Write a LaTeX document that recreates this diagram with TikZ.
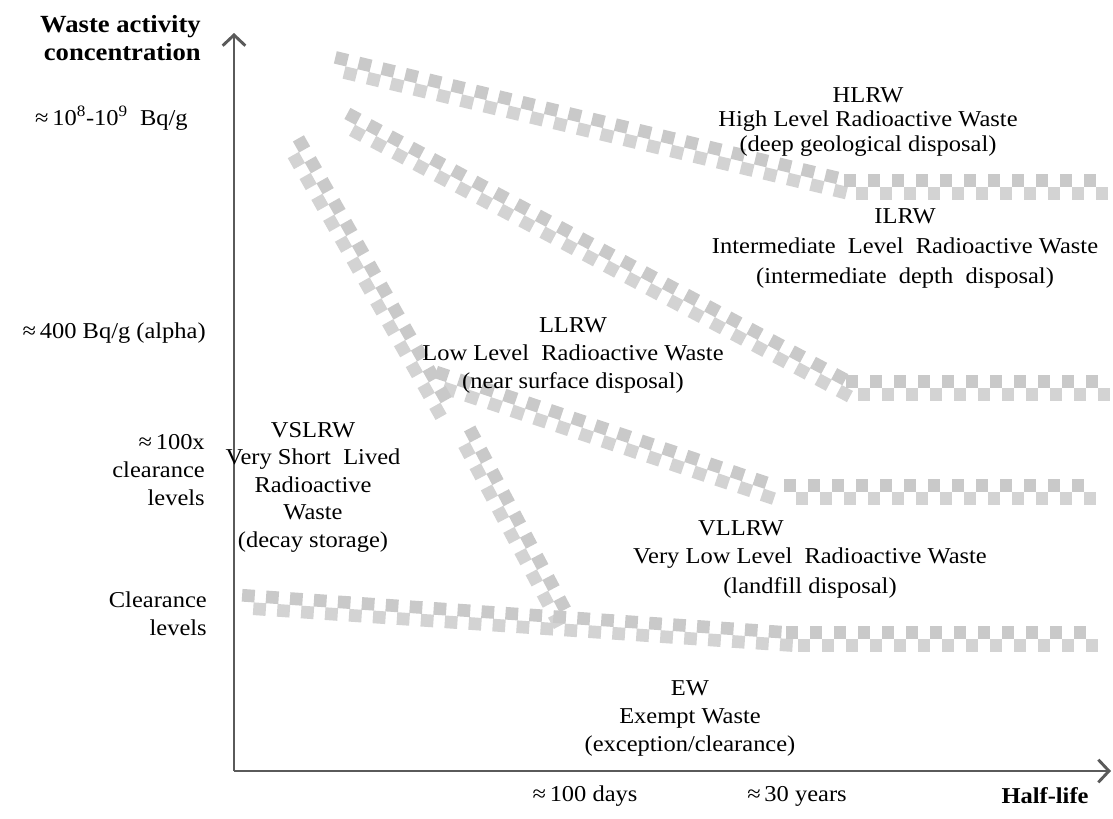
\documentclass[tikz,border=0pt]{standalone}
\usepackage{fontspec}
\setmainfont{Liberation Serif}[FakeStretch=1.08]
\usetikzlibrary{arrows.meta,decorations.markings}
\definecolor{axisgray}{HTML}{5A5A5A}
\definecolor{chk}{HTML}{C9C9C9}
\definecolor{chklt}{HTML}{D3D3D3}
\begin{document}
\begin{tikzpicture}[x=0.75pt,y=-0.75pt,font=\fontsize{17}{21}\selectfont,
  lbl/.style={align=center,inner sep=0pt},
  tick/.style={align=right,inner sep=0pt,anchor=east},
  ax/.style={draw=axisgray,line width=2.2pt,-{Straight Barb[length=8pt,width=17pt]}},
  band/.style={postaction={decorate,decoration={markings,
    mark=between positions 0 and 1 step 18pt with {%
      \fill[chk] (-4.75pt,0pt) rectangle (4.75pt,9.5pt);
      \fill[chklt] (4.25pt,-9.5pt) rectangle (13.75pt,0pt);}}}}]
\useasboundingbox (0,0) rectangle (1113,818);
% axes
\coordinate (o) at (234,771);
\coordinate (ytop) at (234,33);
\coordinate (xend) at (1111,771);
\draw[ax] (o) -- (ytop);
\draw[ax] (o) -- (xend);
% class boundaries
\coordinate (h1) at (340,65);  \coordinate (h2) at (840,185);
\coordinate (h3) at (850,187); \coordinate (h4) at (1110,187);
\coordinate (i1) at (350,122); \coordinate (i2) at (838,383);
\coordinate (i3) at (852,388); \coordinate (i4) at (1098,388);
\coordinate (l1) at (440,380); \coordinate (l2) at (768,490);
\coordinate (l3) at (790,492); \coordinate (l4) at (1098,492);
\coordinate (v1) at (296,147); \coordinate (v2) at (440,402);
\coordinate (v3) at (467,437); \coordinate (v4) at (562,617);
\coordinate (e1) at (248,602); \coordinate (e2) at (775,638);
\coordinate (e3) at (792,639); \coordinate (e4) at (1098,639);
\path[band] (h1) -- (h2); \path[band] (h3) -- (h4);
\path[band] (i1) -- (i2); \path[band] (i3) -- (i4);
\path[band] (l1) -- (l2); \path[band] (l3) -- (l4);
\path[band] (v1) -- (v2); \path[band] (v3) -- (v4);
\path[band] (e1) -- (e2); \path[band] (e3) -- (e4);
% axis texts
\node[tick,font=\fontsize{18.5}{21}\selectfont\bfseries] (yname) at (201,38) {Waste activity\\concentration};
\node[tick] (t1) at (188,118) {≈\,10\textsuperscript{8}-10\textsuperscript{9}\ \ Bq/g};
\node[tick] (t2) at (206,333) {≈\,400 Bq/g (alpha)};
\node[tick] (t3) at (205,470) {≈\,100x\\clearance\\levels};
\node[tick] (t4) at (207,614) {Clearance\\levels};
\node[lbl] (d1) at (585,796) {≈\,100 days};
\node[lbl] (d2) at (797,796) {≈\,30 years};
\node[lbl,font=\fontsize{17}{21}\selectfont\bfseries] (xname) at (1045,796) {Half-life};
% waste classes
\node[lbl,font=\fontsize{17}{18.5}\selectfont] (hlrw) at (868,122) {HLRW\\High Level Radioactive Waste\\(deep geological disposal)};
\node[lbl,font=\fontsize{17}{22.5}\selectfont] (ilrw) at (905,248) {ILRW\\Intermediate\ \ Level\ \ Radioactive Waste\\(intermediate\ \ depth\ \ disposal)};
\node[lbl] (llrw) at (573,355) {LLRW\\Low Level\ \ Radioactive Waste\\(near surface disposal)};
\node[lbl,font=\fontsize{17}{20.6}\selectfont] (vslrw) at (313,487) {VSLRW\\Very Short\ \ Lived\\Radioactive\\Waste\\(decay storage)};
\node[lbl] (vllrw) at (741,528) {VLLRW};
\node[lbl,font=\fontsize{17}{22.5}\selectfont] (vllrwt) at (810,573) {Very Low Level\ \ Radioactive Waste\\(landfill disposal)};
\node[lbl] (ew) at (690,718) {EW\\Exempt Waste\\(exception/clearance)};
\end{tikzpicture}
\end{document}
